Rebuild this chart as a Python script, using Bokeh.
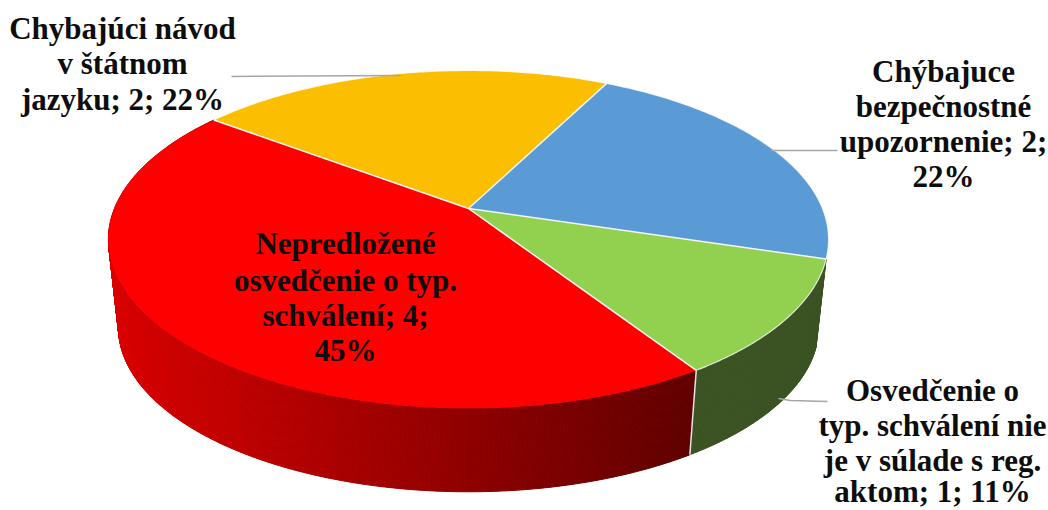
import numpy as np
from bokeh.plotting import figure
from bokeh.models import Range1d
from bokeh.core.properties import value
from bokeh.embed import file_html
from bokeh.resources import INLINE

# Data, clockwise from the first slice
categories = ["Chýbajuce bezpečnostné upozornenie", "Osvedčenie o typ. schválení nie je v súlade s reg. aktom",
              "Nepredložené osvedčenie o typ. schválení", "Chýbajúci návod v štátnom jazyku"]
values = [2, 1, 4, 2]
percents = [22, 11, 45, 22]
colors = ["#5b9bd5", "#92d050", "#ff0000", "#fbbe00"]
label_lines = [
    ["Chýbajuce", "bezpečnostné", "upozornenie; 2;", "22%"],
    ["Osvedčenie o", "typ. schválení nie", "je v súlade s reg.", "aktom; 1; 11%"],
    ["Nepredložené", "osvedčenie o typ.", "schválení; 4;", "45%"],
    ["Chybajúci návod", "v štátnom", "jazyku; 2; 22%"],
]

# Geometry (page pixels)
CX, CY, RXB, RYA, K = 468.0, 208.0, 354.0, 163.3, 0.183
START = 27.0
SCALE, DROP = 0.972, 89.0


def project(deg, bottom=False):
    t = np.radians(deg)
    u, v = np.sin(t), np.cos(t)
    w = 1 + K * v
    dx, dy = RXB * u / w, -RYA * v / w
    if bottom:
        return CX + SCALE * dx, CY + SCALE * dy + DROP
    return CX + dx, CY + dy


p = figure(width=1048, height=510, output_backend="svg", toolbar_location=None,
           x_range=Range1d(0, 1048), y_range=Range1d(510, 0),
           min_border=0, outline_line_color=None)
p.xaxis.visible = False
p.yaxis.visible = False
p.grid.visible = False

edges = START + np.concatenate([[0], np.cumsum(values)]) / sum(values) * 360.0

# Side walls: only the green and the red slice show a wall
wall_xs, wall_ys, wall_cols = [], [], []
for i in (1, 2):
    a0, a1 = edges[i], edges[i + 1]
    steps = np.linspace(a0, a1, int((a1 - a0) * 3) + 2)
    for s0, s1 in zip(steps[:-1], steps[1:]):
        x0, y0 = project(s0)
        x1, y1 = project(s1)
        x2, y2 = project(s1, True)
        x3, y3 = project(s0, True)
        wall_xs.append([x0, x1, x2, x3])
        wall_ys.append([y0, y1, y2, y3])
        if i == 1:
            wall_cols.append("#3b5323")
        else:
            mx = (x2 + x3) / 2
            r = int(np.clip(216 - (mx - 120) * (216 - 96) / (690 - 120), 90, 225))
            wall_cols.append(f"#{r:02x}0000")
p.patches(wall_xs, wall_ys, fill_color=wall_cols, line_color=wall_cols, line_width=1)

# Wall seam between green and red
sx0, sy0 = project(edges[2])
sx1, sy1 = project(edges[2], True)
p.line([sx0, sx1], [sy0, sy1], line_color="#e8e8e8", line_width=1.5)

# Top faces
for i in range(len(values)):
    ang = np.linspace(edges[i], edges[i + 1], 120)
    xs, ys = project(ang)
    p.patch(np.r_[CX, xs], np.r_[CY, ys], fill_color=colors[i], line_color=None)

# Rim on all faces but the red one, spokes on all
for i in range(len(values)):
    if colors[i] != "#ff0000":
        ang = np.linspace(edges[i], edges[i + 1], 120)
        xs, ys = project(ang)
        p.line(xs, ys, line_color="#ffffff", line_width=1.2, line_alpha=0.8)
for e in edges[:-1]:
    x, y = project(e)
    p.line([CX, x], [CY, y], line_color="#f4f4f4", line_width=1.5)

# Leader lines
LEADERS = [
    ([771, 837], [150, 150]),
    ([778, 790, 827], [398, 400, 401]),
    None,
    ([231, 400], [76, 75]),
]
for l in LEADERS:
    if l:
        p.line(l[0], l[1], line_color="#a6a6a6", line_width=1.5)

# Labels
LABEL_POS = [
    (943, [71, 106, 141, 176]),
    (932, [390, 425, 460, 491]),
    (345, [243, 280, 315, 350]),
    (122, [28, 63, 99]),
]
for lines, (lx, bases) in zip(label_lines, LABEL_POS):
    p.text([lx] * len(lines), bases, text=lines, text_align="center", text_baseline="alphabetic",
           text_font=value("Liberation Serif"), text_font_style="bold", text_font_size="31px",
           text_color="#0d0d0d")

open("out.html", "w").write(file_html(p, INLINE))
